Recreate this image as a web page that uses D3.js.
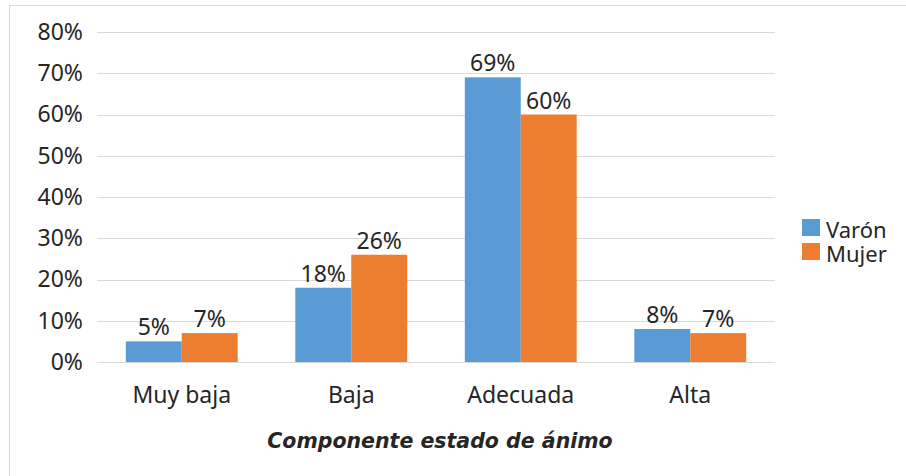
<!DOCTYPE html>
<html>
<head>
<meta charset="utf-8">
<script src="https://cdn.jsdelivr.net/npm/d3@7"></script>
<style>
  html, body { margin: 0; padding: 0; background: #fff; }
  svg { display: block; }
  text { font-family: "Noto Sans", "Open Sans", sans-serif; fill: #262626; }
</style>
</head>
<body>
<svg id="chart" width="906" height="476"></svg>
<script>
const categories = ["Muy baja", "Baja", "Adecuada", "Alta"];
const seriesNames = ["Varón", "Mujer"];
const varon = [5, 18, 69, 8];
const mujer = [7, 26, 60, 7];
const yTicks = [0, 10, 20, 30, 40, 50, 60, 70, 80];
const colors = ["#5B9BD5", "#ED7D31"];
const axisTitle = "Componente estado de ánimo";

(function draw() {
  const svg = d3.select("#chart");
  const labelSize = "23px";

  // outer chart frame
  svg.append("rect")
    .attr("x", 9.5).attr("y", 5.5)
    .attr("width", 905).attr("height", 480)
    .attr("fill", "none").attr("stroke", "#d9d9d9");

  const plotLeft = 97, plotRight = 775, plotTop = 32, plotBottom = 362;

  const x = d3.scaleBand().domain(categories).range([plotLeft, plotRight]).paddingInner(0.34).paddingOuter(0.17);
  const xs = d3.scaleBand().domain(seriesNames).range([0, x.bandwidth()]);
  const y = d3.scaleLinear().domain([0, 80]).range([plotBottom, plotTop]);

  // gridlines
  svg.append("g").selectAll("line").data(yTicks).join("line")
    .attr("x1", plotLeft).attr("x2", plotRight)
    .attr("y1", d => Math.round(y(d)) + 0.5).attr("y2", d => Math.round(y(d)) + 0.5)
    .attr("stroke", "#d9d9d9").attr("stroke-width", 1.2);

  // y axis labels
  const yAxis = d3.axisLeft(y).tickValues(yTicks).tickFormat(d => d + "%").tickSize(0).tickPadding(14);
  const gy = svg.append("g").attr("transform", `translate(${plotLeft},0)`).call(yAxis);
  gy.select(".domain").remove();
  gy.selectAll("text").style("font-size", labelSize).attr("fill", "#262626")
    .style("font-family", "'Noto Sans', sans-serif");

  // x axis labels
  const xAxis = d3.axisBottom(x).tickSize(0).tickPadding(25);
  const gx = svg.append("g").attr("transform", `translate(0,${plotBottom})`).call(xAxis);
  gx.select(".domain").remove();
  gx.selectAll("text").style("font-size", labelSize).attr("fill", "#262626")
    .style("font-family", "'Noto Sans', sans-serif");

  // bars and value labels
  const rows = categories.map((c, i) => ({ cat: c, vals: [varon[i], mujer[i]] }));
  const groups = svg.append("g").selectAll("g").data(rows).join("g")
    .attr("transform", d => `translate(${x(d.cat)},0)`);

  groups.selectAll("rect").data(d => d.vals.map((v, k) => ({ v, k })))
    .join("rect")
    .attr("x", d => xs(seriesNames[d.k]))
    .attr("width", xs.bandwidth())
    .attr("y", d => y(d.v))
    .attr("height", d => y(0) - y(d.v))
    .attr("fill", d => colors[d.k]);

  groups.selectAll("text").data(d => d.vals.map((v, k) => ({ v, k })))
    .join("text")
    .attr("x", d => xs(seriesNames[d.k]) + xs.bandwidth() / 2)
    .attr("y", d => y(d.v) - 6)
    .attr("text-anchor", "middle")
    .style("font-size", labelSize)
    .text(d => d.v + "%");

  // axis title
  svg.append("text")
    .attr("x", 440).attr("y", 448)
    .attr("text-anchor", "middle")
    .style("font-family", "'DejaVu Sans', sans-serif")
    .style("font-size", "20.5px").style("font-weight", "bold").style("font-style", "italic")
    .attr("fill", "#000")
    .text(axisTitle);

  // legend
  const legend = svg.append("g").selectAll("g").data(seriesNames).join("g")
    .attr("transform", (d, i) => `translate(802,${219 + i * 24})`);
  legend.append("rect").attr("width", 18).attr("height", 17).attr("fill", (d, i) => colors[i]);
  legend.append("text").attr("x", 24).attr("y", 19).style("font-size", "22px").text(d => d);
})();
</script>
</body>
</html>
